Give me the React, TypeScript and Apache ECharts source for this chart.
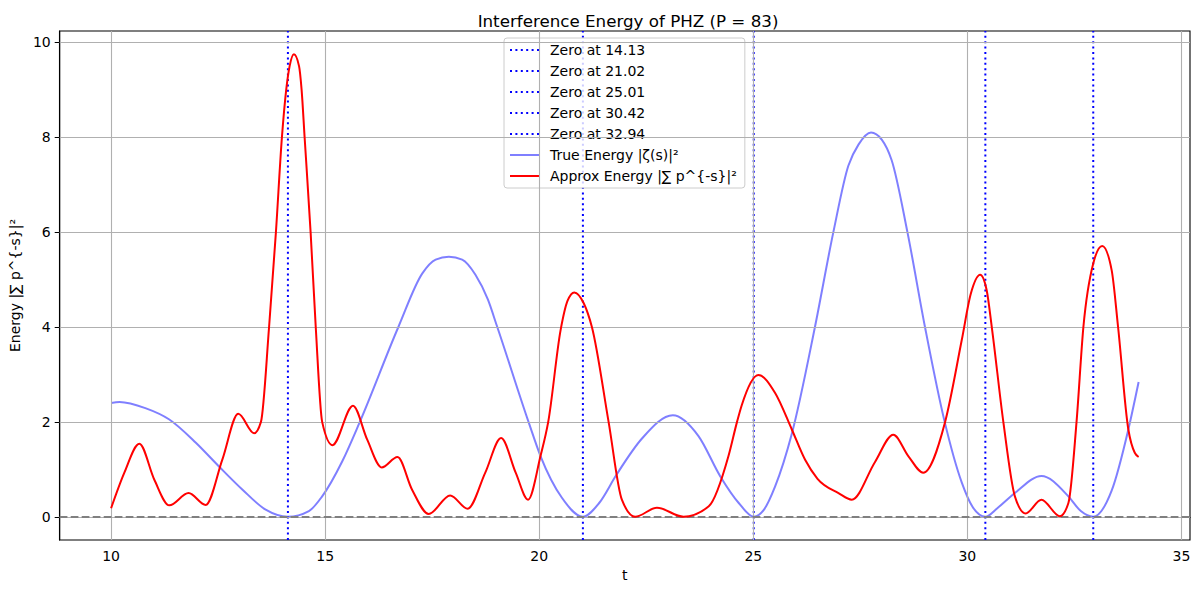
import { useEffect, useRef } from "react";
import * as echarts from "echarts";

// values
const X_TICKS = [10, 15, 20, 25, 30, 35];
const Y_TICKS = [0, 2, 4, 6, 8, 10];
const X_RANGE = [8.8, 35.2];
const Y_RANGE = [-0.49, 10.24];

const ZEROS = [14.13, 21.02, 25.01, 30.42, 32.94];

// |zeta(1/2 + it)|^2  [t, energy]
const trueEnergy: [number, number][] = [
  [10.0, 2.4], [10.2, 2.42], [10.8, 2.29], [11.36, 2.05], [11.98, 1.56],
  [12.52, 1.06], [13.07, 0.57], [13.61, 0.15], [14.13, 0.0], [14.62, 0.12],
  [14.93, 0.43], [15.4, 1.17], [15.81, 2.0], [16.71, 4.0], [17.27, 5.13],
  [17.58, 5.42], [17.89, 5.48], [18.2, 5.42], [18.51, 5.1], [18.8, 4.58],
  [19.02, 4.0], [19.75, 2.0], [20.03, 1.28], [20.53, 0.4], [21.02, 0.0],
  [21.4, 0.29], [21.8, 0.88], [22.4, 1.65], [23.12, 2.14], [23.72, 1.7],
  [24.23, 0.85], [24.66, 0.29], [25.01, 0.0], [25.25, 0.15], [25.51, 0.64],
  [25.9, 1.75], [26.44, 4.0], [26.87, 6.0], [27.22, 7.4], [27.46, 7.85],
  [27.75, 8.1], [28.0, 7.95], [28.23, 7.52], [28.6, 6.0], [29.01, 4.0],
  [29.47, 2.0], [29.87, 0.72], [30.12, 0.21], [30.42, 0.0], [30.7, 0.18],
  [31.11, 0.5], [31.73, 0.86], [32.36, 0.43], [32.65, 0.12], [32.94, 0.0],
  [33.37, 0.55], [33.76, 1.84], [34.0, 2.84],
];

// |sum p^{-s}|^2 over primes up to 83  [t, energy]
const approxEnergy: [number, number][] = [
  [10.0, 0.18], [10.31, 0.93], [10.66, 1.54], [11.01, 0.78], [11.36, 0.24],
  [11.81, 0.5], [12.21, 0.25], [12.6, 1.21], [12.97, 2.17], [13.34, 1.76],
  [13.5, 2.0], [13.69, 4.0], [13.85, 6.0], [13.99, 8.0], [14.09, 9.0],
  [14.17, 9.5], [14.27, 9.75], [14.39, 9.5], [14.45, 9.0], [14.52, 8.0],
  [14.66, 6.0], [14.78, 4.0], [14.93, 2.0], [15.17, 1.51], [15.65, 2.34],
  [15.98, 1.63], [16.32, 1.04], [16.69, 1.26], [17.03, 0.57], [17.42, 0.06],
  [17.92, 0.45], [18.33, 0.17], [18.74, 0.93], [19.11, 1.66], [19.45, 0.93],
  [19.74, 0.36], [20.03, 1.28], [20.21, 2.0], [20.5, 3.94], [20.66, 4.55],
  [20.82, 4.73], [21.04, 4.5], [21.23, 4.0], [21.62, 2.0], [21.93, 0.36],
  [22.24, 0.0], [22.75, 0.19], [23.37, 0.0], [23.96, 0.22], [24.42, 1.28],
  [24.62, 2.0], [24.73, 2.35], [25.12, 2.99], [25.51, 2.61], [25.9, 1.84],
  [26.21, 1.2], [26.5, 0.8], [26.99, 0.5], [27.3, 0.36], [27.84, 1.15],
  [28.27, 1.73], [28.62, 1.28], [28.97, 0.93], [29.48, 2.0], [29.87, 3.73],
  [30.08, 4.7], [30.3, 5.1], [30.45, 4.78], [30.57, 4.0], [30.84, 2.0],
  [31.11, 0.43], [31.36, 0.07], [31.73, 0.36], [32.16, 0.01], [32.36, 0.29],
  [32.55, 2.0], [32.71, 4.0], [32.94, 5.34], [33.15, 5.71], [33.37, 5.2],
  [33.52, 4.0], [33.76, 1.84], [33.91, 1.35], [34.0, 1.26],
];

const FONT = "DejaVu Sans";
const TRUE_NAME = "True Energy |ζ(s)|²";
const APPROX_NAME = "Approx Energy |∑ p^{-s}|²";
const TRUE_COLOR = "rgba(0,0,255,0.5)";
const APPROX_COLOR = "#ff0000";

// monotone cubic through already-projected pixel points (same as d3.curveMonotoneX)
function monotonePath(pts: number[][]): string {
  const n = pts.length;
  const h: number[] = [];
  const s: number[] = [];
  for (let i = 0; i < n - 1; i++) {
    h[i] = pts[i + 1][0] - pts[i][0];
    s[i] = (pts[i + 1][1] - pts[i][1]) / h[i];
  }
  const t: number[] = new Array(n).fill(0);
  for (let i = 1; i < n - 1; i++) {
    const p = (s[i - 1] * h[i] + s[i] * h[i - 1]) / (h[i - 1] + h[i]);
    t[i] = (Math.sign(s[i - 1]) + Math.sign(s[i])) *
      Math.min(Math.abs(s[i - 1]), Math.abs(s[i]), 0.5 * Math.abs(p)) || 0;
  }
  t[0] = (3 * s[0] - t[1]) / 2;
  t[n - 1] = (3 * s[n - 2] - t[n - 2]) / 2;
  let d = `M${pts[0][0]},${pts[0][1]}`;
  for (let i = 0; i < n - 1; i++) {
    const dx = h[i] / 3;
    d += `C${pts[i][0] + dx},${pts[i][1] + dx * t[i]},${pts[i + 1][0] - dx},${pts[i + 1][1] - dx * t[i + 1]},${pts[i + 1][0]},${pts[i + 1][1]}`;
  }
  return d;
}

function curveSeries(data: [number, number][], color: string, z: number) {
  return {
    type: "custom",
    data,
    z,
    silent: true,
    renderItem: (params: any, api: any) => {
      if (params.dataIndex !== 0) return null;
      const pts = data.map((p) => api.coord(p));
      return {
        type: "path",
        shape: { pathData: monotonePath(pts) },
        style: { stroke: color, lineWidth: 2, fill: "none" },
      };
    },
  };
}

export default function App() {
  const ref = useRef<HTMLDivElement>(null);

  useEffect(() => {
    if (!ref.current) return;
    const chart = echarts.init(ref.current, undefined, { renderer: "svg" });

    const zeroSeries = ZEROS.map((z) => ({
      name: `Zero at ${z.toFixed(2)}`,
      type: "line",
      data: [[z, Y_RANGE[0]], [z, Y_RANGE[1]]],
      symbol: "none",
      lineStyle: { color: "#0000ff", width: 2, type: [2, 3.4] },
      itemStyle: { color: "#0000ff" },
      z: 3,
    }));

    chart.setOption({
      animation: false,
      textStyle: { fontFamily: FONT },
      title: {
        text: "Interference Energy of PHZ (P = 83)",
        left: 623,
        top: 7,
        textAlign: "center",
        textStyle: { fontFamily: FONT, fontSize: 16.7, fontWeight: "normal", color: "#000" },
      },
      grid: {
        left: 57, right: 10, top: 31, bottom: 54,
        show: true, borderColor: "#000", borderWidth: 1.1, backgroundColor: "transparent",
      },
      legend: {
        orient: "vertical",
        left: 504,
        top: 38,
        padding: [5, 8, 5, 5],
        itemWidth: 29,
        itemHeight: 14,
        itemGap: 7,
        backgroundColor: "rgba(255,255,255,0.8)",
        borderColor: "#cccccc",
        borderWidth: 1,
        borderRadius: 3,
        itemStyle: { opacity: 0 },
        textStyle: { fontFamily: FONT, fontSize: 14, color: "#000", padding: [0, 0, 0, 6] },
        data: [...ZEROS.map((z) => `Zero at ${z.toFixed(2)}`), TRUE_NAME, APPROX_NAME],
      },
      xAxis: {
        type: "value",
        min: X_RANGE[0],
        max: X_RANGE[1],
        name: "t",
        nameLocation: "middle",
        nameGap: 27,
        nameTextStyle: { fontFamily: FONT, fontSize: 14, color: "#000" },
        axisLine: { show: true, lineStyle: { color: "#000", width: 1.1 } },
        axisTick: { show: true, length: 5, customValues: X_TICKS, lineStyle: { color: "#000" } },
        axisLabel: { customValues: X_TICKS, fontFamily: FONT, fontSize: 14, color: "#000", margin: 9 },
        splitLine: { show: false },
      },
      yAxis: {
        type: "value",
        min: Y_RANGE[0],
        max: Y_RANGE[1],
        name: "Energy |∑ p^{-s}|²",
        nameLocation: "middle",
        nameGap: 32,
        nameTextStyle: { fontFamily: FONT, fontSize: 14, color: "#000" },
        axisLine: { show: true, lineStyle: { color: "#000", width: 1.1 } },
        axisTick: { show: true, length: 5, customValues: Y_TICKS, lineStyle: { color: "#000" } },
        axisLabel: { customValues: Y_TICKS, fontFamily: FONT, fontSize: 14, color: "#000", margin: 9 },
        splitLine: { show: false },
      },
      series: [
        {
          type: "line",
          data: [],
          z: 1,
          silent: true,
          markLine: {
            silent: true,
            symbol: ["none", "none"],
            label: { show: false },
            lineStyle: { color: "#b0b0b0", width: 1.1, type: "solid" },
            data: [...X_TICKS.map((x) => ({ xAxis: x })), ...Y_TICKS.map((y) => ({ yAxis: y }))],
          },
        },
        ...zeroSeries,
        // legend entries; the curves themselves are drawn by the custom series below
        { name: TRUE_NAME, type: "line", data: [], symbol: "none", lineStyle: { color: TRUE_COLOR, width: 2 }, itemStyle: { color: TRUE_COLOR } },
        { name: APPROX_NAME, type: "line", data: [], symbol: "none", lineStyle: { color: APPROX_COLOR, width: 2 }, itemStyle: { color: APPROX_COLOR } },
        curveSeries(trueEnergy, TRUE_COLOR, 4),
        curveSeries(approxEnergy, APPROX_COLOR, 5),
        {
          type: "line",
          data: [],
          z: 6,
          silent: true,
          markLine: {
            silent: true,
            symbol: ["none", "none"],
            label: { show: false },
            lineStyle: { color: "#808080", width: 2, type: [7.7, 3.3] },
            data: [{ yAxis: 0 }],
          },
        },
      ],
    });

    return () => chart.dispose();
  }, []);

  return <div ref={ref} style={{ position: "fixed", left: 0, top: 0, width: 1200, height: 594, background: "#fff" }} />;
}
